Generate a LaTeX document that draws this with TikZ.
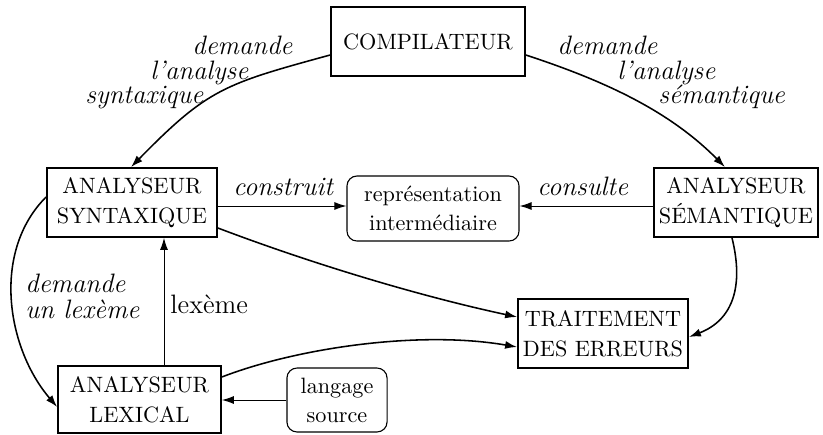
\documentclass[tikz,border=0pt]{standalone}
\usetikzlibrary{arrows.meta,calc}
\begin{document}
\begin{tikzpicture}[x=0.4505pt,y=-0.4505pt,
  box/.style={draw,line width=0.8pt,inner sep=0pt,align=center,font=\fontsize{10}{13.5}\selectfont},
  rbox/.style={draw,line width=0.5pt,rounded corners=4.5pt,inner sep=0pt,align=center,font=\fontsize{10}{13}\selectfont},
  lbl/.style={font=\fontsize{12}{14}\selectfont\itshape,inner sep=0pt,anchor=base west},
  arr/.style={-{Latex[length=5.4pt,width=3.6pt]},line width=0.7pt},
  sarr/.style={-{Latex[length=5.4pt,width=3.6pt]},line width=0.45pt}]
\useasboundingbox (0,0) rectangle (823,434);

\node[box,minimum width=87.4pt,minimum height=31.1pt] (comp) at (428,41.5) {COMPILATEUR};
\node[box,minimum width=76.6pt,minimum height=31.1pt] (synt) at (132,202.5) {ANALYSEUR\\SYNTAXIQUE};
\node[rbox,minimum width=77.5pt,minimum height=29.3pt] (rep) at (433,208.5) {représentation\\intermédiaire};
\node[box,minimum width=73.9pt,minimum height=31.1pt] (sem) at (736,202.5) {ANALYSEUR\\SÉMANTIQUE};
\node[box,minimum width=76.6pt,minimum height=31.1pt] (err) at (603,333.5) {TRAITEMENT\\DES ERREURS};
\node[box,minimum width=73.4pt,minimum height=30.2pt] (lex) at (139.5,399.5) {ANALYSEUR\\LEXICAL};
\node[rbox,minimum width=45.1pt,minimum height=28.8pt] (src) at (337,400) {langage\\source};

% curved connectors
\draw[arr] ($(comp.west)+(0,13.5)$) .. controls +(-106,29) and +(77,-78.5) .. ($(synt.north)+(-1,0)$);
\draw[arr] ($(comp.east)+(0,13.5)$) .. controls +(76,25) and +(-57,-57.6) .. ($(sem.north)+(-11,0)$);
\draw[arr] ($(synt.west)+(0,-5.5)$) .. controls +(-54.6,54.6) and +(-50.7,-59.3) .. ($(lex.west)+(0,7.5)$);
\draw[arr] ($(synt.east)+(0,25.5)$) .. controls +(93.5,35.5) and +(-98,-21) .. ($(err.west)+(0,-16.5)$);
\draw[arr] ($(lex.east)+(0,-22.5)$) .. controls +(74.4,-28.8) and +(-98.5,-17) .. ($(err.west)+(0,13.5)$);
\draw[arr] ($(sem.south)+(-4,0)$) .. controls +(12,48.5) and +(44,-17) .. ($(err.east)+(0,3.5)$);

% straight connectors
\draw[sarr] ($(synt.east)+(0,3.5)$) -- ($(rep.west)+(0,-2.5)$);
\draw[sarr] ($(sem.west)+(0,3.5)$) -- ($(rep.east)+(0,-2.5)$);
\draw[sarr] ($(lex.north)+(24.5,0)$) -- ($(synt.south)+(32,0)$);
\draw[sarr] (src.west) -- (src.west -| lex.east);

% labels
\node[lbl] (l1a) at (192,54) {demande};
\node[lbl] (l1b) at (150,79) {l'analyse};
\node[lbl] (l1c) at (85,103) {syntaxique};
\node[lbl] (l2a) at (557,54) {demande};
\node[lbl] (l2b) at (617,79) {l'analyse};
\node[lbl] (l2c) at (658,103) {sémantique};
\node[lbl] (l3) at (233,195) {construit};
\node[lbl] (l4) at (537,195) {consulte};
\node[lbl] (l5a) at (25,292) {demande};
\node[lbl] (l5b) at (25,318) {un lexème};
\node[lbl,font=\fontsize{12}{14}\selectfont\upshape] (l6) at (170,313) {lexème};
\end{tikzpicture}
\end{document}
